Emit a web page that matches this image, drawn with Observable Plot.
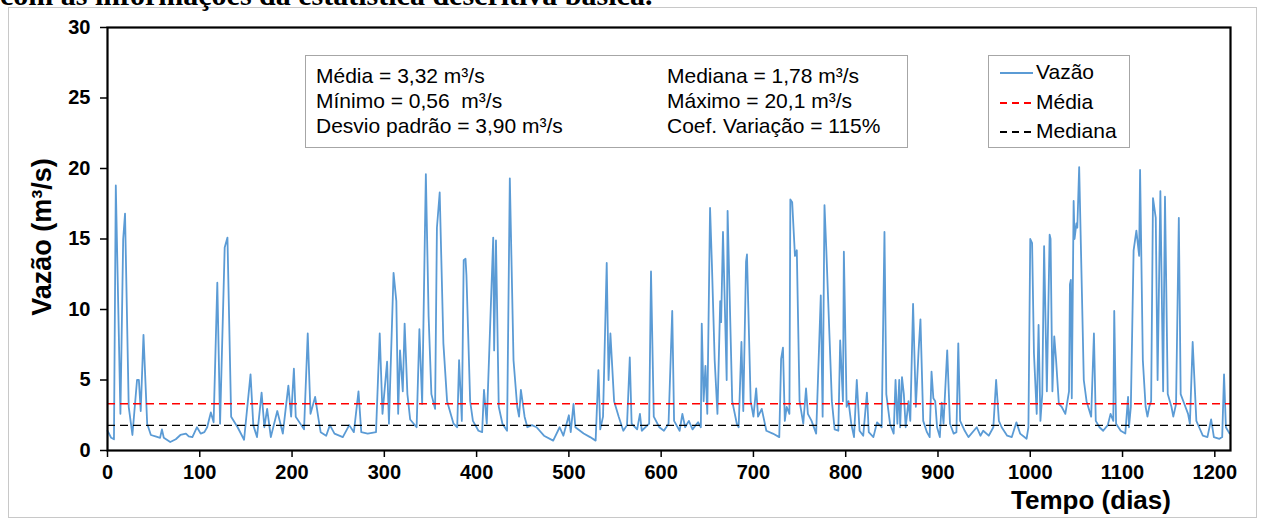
<!DOCTYPE html>
<html><head><meta charset="utf-8">
<script src="https://cdn.jsdelivr.net/npm/d3@7"></script>
<script src="https://cdn.jsdelivr.net/npm/@observablehq/plot@0.6"></script>
<style>
body{margin:0;background:#fff;}
#wrap{position:relative;width:1261px;height:525px;overflow:hidden;background:#fff;font-family:Arial,"Liberation Sans",sans-serif;color:#000;}
#toptext{position:absolute;left:0;top:-20px;font:bold 30px "Liberation Serif","Times New Roman",serif;line-height:30px;white-space:nowrap;}
#outer{position:absolute;left:8px;top:7px;width:1249px;height:511px;border:1px solid #c8c8c8;box-sizing:border-box;}
#chart{position:absolute;left:0;top:0;}
#ytitle{position:absolute;left:42px;top:237px;transform:translate(-50%,-50%) rotate(-90deg);font-weight:bold;font-size:27px;white-space:nowrap;}
#xtitle{position:absolute;left:1091px;top:500px;transform:translate(-50%,-50%);font-weight:bold;font-size:26px;white-space:nowrap;}
#stats{position:absolute;left:305px;top:55px;width:603px;height:93px;border:1px solid #a6a6a6;box-sizing:border-box;background:#fff;font-size:21px;}
#stats div{position:absolute;white-space:pre;line-height:25px;}
#legend{position:absolute;left:988px;top:55px;width:142px;height:93px;border:1px solid #a6a6a6;box-sizing:border-box;background:#fff;font-size:21px;}
#legend .it{position:absolute;left:11px;height:25px;line-height:25px;white-space:nowrap;}
#legend svg{vertical-align:middle;margin-right:3px;}
</style></head><body>
<div id="wrap">
  <div id="outer"></div>
  <div id="toptext">com as informações da estatística descritiva básica.</div>
  <div id="chart"></div>
  <div id="ytitle">Vazão (m³/s)</div>
  <div id="xtitle">Tempo (dias)</div>
  <div id="stats"></div>
  <div id="legend"></div>
</div>
<script>
// ---- data ----
const dias = [0,4,7,9,14,17,19,23,27,32,34,36,39,43,47,52,57,59,61,68,74,79,85,88,92,97,101,105,108,112,115,119,122,127,130,134,141,148,155,158,162,167,170,173,177,184,190,196,199,202,204,210,213,217,220,225,229,231,237,241,246,255,262,267,272,275,282,291,295,298,303,305,310,313,315,317,320,322,325,328,335,338,341,345,348,
351,355,357,360,364,368,375,379,381,384,386,388,389,393,396,402,406,408,411,418,419,421,424,428,433,436,440,444,446,448,452,455,460,465,473,483,490,494,500,502,505,507,516,523,529,532,534,537,541,543,545,549,554,559,563,566,568,574,577,579,587,589,592,598,603,608,612,614,620,623,626,630,634,640,643,644,646,648,650,653,655,658,661,664,665,667,671,672,677,682,684,687,689,692,693,697,
700,703,705,709,714,721,728,730,732,734,736,739,740,742,745,747,750,754,757,759,763,768,773,775,777,779,785,788,792,794,797,798,801,803,806,809,812,815,819,823,825,830,834,839,842,844,848,852,854,856,858,859,861,863,865,868,870,873,876,879,881,884,888,891,893,895,897,899,902,904,906,910,913,917,920,922,924,929,933,942,946,949,955,960,963,966,969,975,980,985,989,996,998,1000,1002,1004,1007,1009,1011,1013,1015,1018,1021,1022,1024,1026,1028,1031,1034,1038,1042,1043,1044,1045,1047,
1048,1050,1051,1053,1056,1058,1061,1066,1069,1071,1075,1079,1084,1087,1090,1091,1093,1098,1103,1106,1107,1109,1112,1115,1118,1119,1122,1125,1127,1129,1131,1133,1136,1138,1141,1144,1146,1149,1153,1155,1158,1161,1163,1167,1171,1173,1176,1180,1183,1187,1192,1196,1199,1205,1208,1210,1212,1216];
const vazao = [1.4,0.9,0.8,18.8,2.6,15.0,16.8,3.1,1.1,5.0,5.0,2.8,8.2,1.9,1.1,1.0,0.9,1.5,0.9,0.6,0.8,1.1,1.2,1.0,0.95,1.65,1.2,1.3,1.65,2.7,2.0,11.9,1.9,14.4,15.1,2.4,1.65,0.76,5.4,1.8,0.95,4.1,1.65,2.95,0.95,2.8,1.2,4.6,2.4,5.8,2.4,1.8,1.5,8.3,2.6,3.8,2.1,1.3,1.05,1.8,1.2,0.95,1.8,1.3,4.2,1.3,1.2,1.3,8.3,2.6,6.3,1.9,12.6,10.6,2.6,7.1,4.2,9.0,4.0,2.2,1.65,8.6,3.3,19.6,9.5,
4.0,2.95,15.8,18.3,7.6,3.5,1.9,1.65,6.4,2.1,13.5,13.6,12.4,3.5,2.1,1.4,1.3,4.3,1.9,15.1,7.1,14.9,3.1,1.9,1.4,19.3,6.4,3.1,2.4,4.3,2.4,1.65,1.8,1.65,1.05,0.7,1.65,1.05,2.5,1.3,3.3,1.65,1.2,0.95,0.7,5.7,1.5,2.4,13.3,5.0,8.3,3.5,2.4,1.4,1.8,6.6,1.9,1.5,2.6,1.4,1.9,12.7,2.4,1.65,1.4,1.9,9.9,2.1,1.4,2.6,1.65,2.1,1.5,2.0,1.65,9.0,3.5,6.0,2.6,17.2,13.2,6.4,2.6,10.6,9.1,15.5,5.0,17.0,3.5,1.9,1.65,7.7,2.8,13.4,13.9,3.5,
2.4,4.4,2.4,2.95,1.4,1.2,0.95,6.5,7.3,2.1,3.1,2.6,17.8,17.6,13.8,14.2,3.5,1.9,4.4,2.6,2.1,1.2,11.0,2.4,17.4,14.2,3.5,1.5,1.4,7.8,3.5,14.1,3.1,3.5,1.9,0.95,5.0,1.4,1.05,4.1,1.3,0.95,2.0,1.65,15.5,4.0,1.9,1.2,5.0,1.9,5.0,1.65,5.2,4.0,1.65,3.5,2.1,10.4,3.1,7.1,9.3,2.1,1.3,0.95,5.6,3.7,3.5,1.65,0.95,3.4,1.9,7.1,1.9,1.2,1.3,7.6,2.1,1.4,0.95,1.65,1.05,1.4,1.05,1.65,5.0,2.1,1.65,1.05,0.95,2.0,1.2,0.83,1.65,15.0,14.7,6.9,2.6,8.9,2.1,4.0,14.5,4.2,15.3,15.0,4.2,8.1,6.4,3.3,3.1,2.6,4.2,11.8,12.1,3.7,17.7,
15.0,16.1,15.8,20.1,11.1,5.0,3.5,2.4,8.3,2.1,1.65,1.4,1.8,2.6,2.1,9.9,1.9,1.4,1.2,3.8,1.65,3.1,14.2,15.6,13.8,19.9,6.4,3.1,2.4,3.1,3.5,17.9,16.5,5.0,18.4,4.2,18.0,4.0,3.1,2.4,3.3,16.5,4.0,3.3,2.6,1.9,7.7,2.1,1.65,1.05,0.95,2.2,0.95,0.83,0.95,5.4,1.65,1.2];
const media = 3.32;
const mediana = 1.78;
const xTicks = [0,100,200,300,400,500,600,700,800,900,1000,1100,1200];
const yTicks = [0,5,10,15,20,25,30];
const statsLeft = ["Média = 3,32 m³/s", "Mínimo = 0,56  m³/s", "Desvio padrão = 3,90 m³/s"];
const statsRight = ["Mediana = 1,78 m³/s", "Máximo = 20,1 m³/s", "Coef. Variação = 115%"];
const legendItems = [
  {label: "Vazão", color: "#5b9bd5", dash: null},
  {label: "Média", color: "#ff0000", dash: "7,5"},
  {label: "Mediana", color: "#000000", dash: "7,5"}
];

const serie = dias.map((d, i) => ({dia: d, q: vazao[i]}));

const chart = Plot.plot({
  width: 1261,
  height: 525,
  marginLeft: 107,
  marginRight: 31,
  marginTop: 27,
  marginBottom: 75,
  style: {background: "transparent", fontFamily: "Arial, 'Liberation Sans', sans-serif", fontSize: "20px", fontWeight: "bold", color: "#000"},
  x: {domain: [0, 1217]},
  y: {domain: [0, 30]},
  marks: [
    Plot.line(serie, {x: "dia", y: "q", stroke: "#5b9bd5", strokeWidth: 1.8}),
    Plot.ruleY([media], {stroke: "#ff0000", strokeWidth: 1.6, strokeDasharray: "8,5"}),
    Plot.ruleY([mediana], {stroke: "#000", strokeWidth: 1.4, strokeDasharray: "8,5"}),
    Plot.frame({stroke: "#000", strokeWidth: 2.2}),
    Plot.axisX({ticks: xTicks, tickFormat: d => String(d), tickSize: 7, tickPadding: 7, strokeWidth: 1.5, label: null}),
    Plot.axisY({ticks: yTicks, tickFormat: d => String(d), tickSize: 7, tickPadding: 10, strokeWidth: 1.5, label: null})
  ]
});
document.getElementById("chart").appendChild(chart);

const stats = document.getElementById("stats");
statsLeft.forEach((t, i) => {
  const d = document.createElement("div");
  d.textContent = t; d.style.left = "10px"; d.style.top = (7 + i * 25) + "px";
  stats.appendChild(d);
});
statsRight.forEach((t, i) => {
  const d = document.createElement("div");
  d.textContent = t; d.style.left = "361px"; d.style.top = (7 + i * 25) + "px";
  stats.appendChild(d);
});

const leg = document.getElementById("legend");
legendItems.forEach((it, i) => {
  const d = document.createElement("div");
  d.className = "it";
  d.style.top = (3 + i * 29.5) + "px";
  d.innerHTML = `<svg width="33" height="10"><line x1="0" x2="33" y1="5" y2="5" stroke="${it.color}" stroke-width="1.8" ${it.dash ? `stroke-dasharray="${it.dash}"` : ""}/></svg>${it.label}`;
  leg.appendChild(d);
});
</script>
</body></html>
